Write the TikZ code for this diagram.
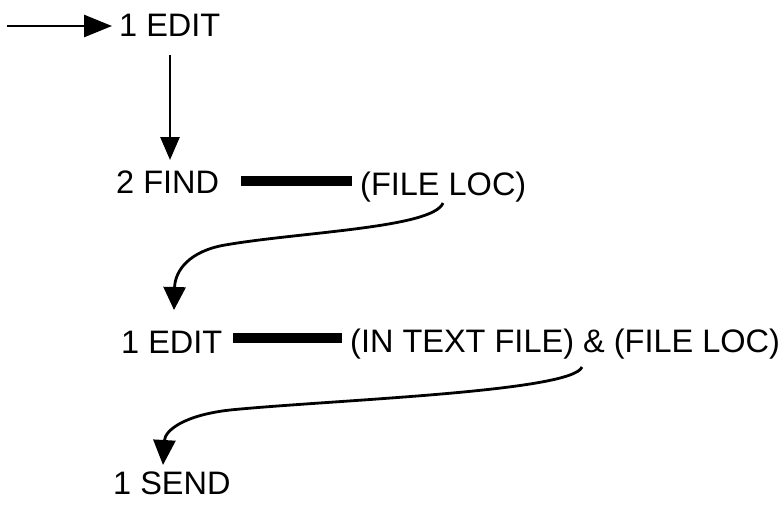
\documentclass[tikz,border=0pt]{standalone}
\usepackage{fontspec}
\setmainfont{Liberation Sans}
\usetikzlibrary{arrows.meta}
\begin{document}
\begin{tikzpicture}[x=1pt,y=-1pt,
  lbl/.style={anchor=base west, inner sep=0pt, font=\fontsize{32.5}{38}\selectfont},
  conn/.style={line width=2.8pt, draw=black},
  barbox/.style={rectangle, fill=black, draw=none, inner sep=0pt, anchor=west}]
\useasboundingbox (0,0) rectangle (783,515);
% labels
\node[lbl] (edit1) at (119,36) {1 EDIT};
\node[lbl] (find) at (116,193) {2 FIND};
\node[barbox, minimum width=111pt, minimum height=10pt] (bar1) at (241,181) {};
\node[lbl] (loc1) at (360,195) {(FILE LOC)};
\node[lbl] (edit2) at (121,353) {1 EDIT};
\node[barbox, minimum width=109pt, minimum height=10pt] (bar2) at (233,338) {};
\node[lbl] (loc2) at (350,352) {(IN TEXT FILE) \& (FILE LOC)};
\node[lbl] (send) at (113,494) {1 SEND};
% coordinates
\coordinate (in) at (7,26);
\coordinate (v1) at (170,55);
\coordinate (v2) at (170,160);
\coordinate (c1s) at (443,203);
\coordinate (c1e) at (174,310);
\coordinate (c2s) at (582,367);
\coordinate (c2e) at (163,465);
% connectors
\draw[conn, -{Triangle[length=28pt,width=22pt]}, shorten >=7pt] (in) -- (in -| edit1.west);
\draw[conn, -{Triangle[length=23pt,width=19pt]}] (v1) -- (v2);
\draw[conn, -{Triangle[length=23pt,width=22pt]}] (c1s) .. controls (433,228) and (300,232) .. (225,245) .. controls (190,251) and (175,270) .. (c1e);
\draw[conn, -{Triangle[length=25pt,width=22pt]}] (c2s) .. controls (572,392) and (330,400) .. (230,410) .. controls (185,415) and (165,430) .. (c2e);
\end{tikzpicture}
\end{document}
